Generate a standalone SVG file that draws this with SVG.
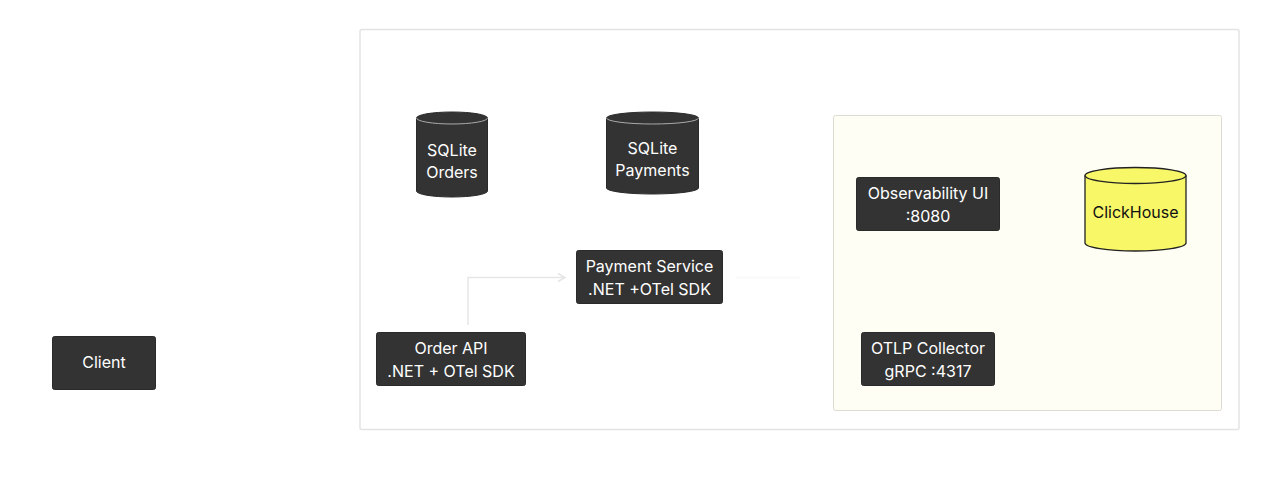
<svg xmlns="http://www.w3.org/2000/svg" width="1280" height="482" viewBox="0 0 1280 482">
<style>
.box{fill:#333333;stroke:#2a2a2a;stroke-width:1}
.t{font-family:Inter,"Liberation Sans",sans-serif;font-size:16px;fill:#ffffff;text-anchor:middle}
.tb{font-family:Inter,"Liberation Sans",sans-serif;font-size:16px;fill:#111111;text-anchor:middle}
.edge{fill:none;stroke:#e6e6e6;stroke-width:1.5}
</style>
<defs>
<marker id="arr" markerWidth="10" markerHeight="10" refX="8" refY="5" orient="auto" markerUnits="userSpaceOnUse">
<path d="M1,1 L8,5 L1,9" fill="none" stroke="#e6e6e6" stroke-width="1.5"/>
</marker>
</defs>
<rect width="1280" height="482" fill="#ffffff"/>
<g id="cluster-outer">
<rect x="360" y="29.500" width="879" height="400" rx="2" fill="#ffffff" stroke="#e3e3e3" stroke-width="1.5"/>
</g>
<g id="cluster-observability">
<rect x="833.500" y="115.500" width="388" height="295" rx="2" fill="#fffef4" stroke="#dcdcd2" stroke-width="1"/>
</g>
<g id="connectors">
<path class="edge" d="M468,325 L468,277.500 L565,277.500" marker-end="url(#arr)"/>
<path d="M736,277.500 L800,277.500" fill="none" stroke="#f8f8f8" stroke-width="1.5"/>
</g>
<g id="client">
<rect class="box" x="52.500" y="336.500" width="103" height="53" rx="2"/>
<text class="t" x="104" y="368">Client</text>
</g>
<g id="order-api">
<rect class="box" x="376.500" y="332.500" width="149" height="53" rx="2"/>
<text class="t" x="451" y="354">Order API</text>
<text class="t" x="451" y="377">.NET + OTel SDK</text>
</g>
<g id="payment-service">
<rect class="box" x="576.500" y="250.500" width="146" height="53" rx="2"/>
<text class="t" x="649.500" y="272">Payment Service</text>
<text class="t" x="649.500" y="295">.NET +OTel SDK</text>
</g>
<g id="sqlite-orders">
<path d="M416.500,118 L416.500,191 A35.500,6 0 0 0 487.500,191 L487.500,118 A35.500,6 0 0 0 416.500,118 Z" fill="#333333" stroke="#2a2a2a"/>
<path d="M416.500,118 A35.500,6 0 0 0 487.500,118" fill="none" stroke="#aaaaaa" stroke-width="1"/>
<text class="t" x="452" y="156">SQLite</text>
<text class="t" x="452" y="178">Orders</text>
</g>
<g id="sqlite-payments">
<path d="M606.500,118 L606.500,188 A46,6 0 0 0 698.500,188 L698.500,118 A46,6 0 0 0 606.500,118 Z" fill="#333333" stroke="#2a2a2a"/>
<path d="M606.500,118 A46,6 0 0 0 698.500,118" fill="none" stroke="#aaaaaa" stroke-width="1"/>
<text class="t" x="652.500" y="154">SQLite</text>
<text class="t" x="652.500" y="176">Payments</text>
</g>
<g id="observability-ui">
<rect class="box" x="856.500" y="177.500" width="143" height="53" rx="2"/>
<text class="t" x="928" y="199">Observability UI</text>
<text class="t" x="928" y="222">:8080</text>
</g>
<g id="otlp-collector">
<rect class="box" x="861.500" y="332.500" width="133" height="53" rx="2"/>
<text class="t" x="928" y="354">OTLP Collector</text>
<text class="t" x="928" y="377">gRPC :4317</text>
</g>
<g id="clickhouse">
<path d="M1085,175.500 L1085,243 A50.500,8 0 0 0 1186,243 L1186,175.500 A50.500,8 0 0 0 1085,175.500 Z" fill="#f7f768" stroke="#222222" stroke-width="1.3"/>
<path d="M1085,175.500 A50.500,8 0 0 0 1186,175.500" fill="none" stroke="#222222" stroke-width="1.3"/>
<text class="tb" x="1135.500" y="218">ClickHouse</text>
</g>
</svg>
